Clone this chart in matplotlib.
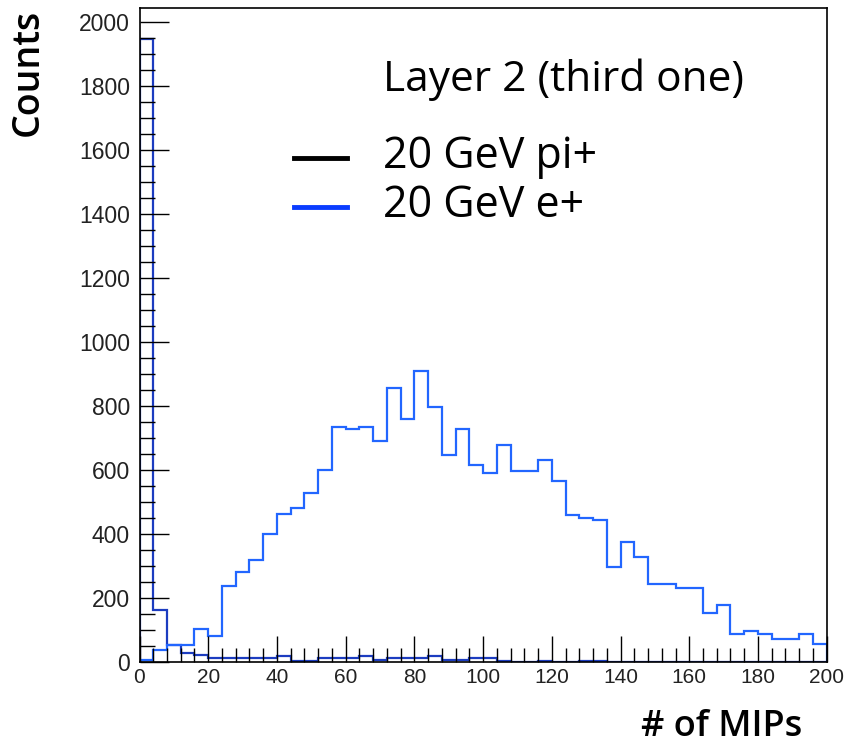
import numpy as np
import matplotlib
matplotlib.use("Agg")
import matplotlib.pyplot as plt
from matplotlib.ticker import MultipleLocator
from matplotlib.lines import Line2D

# ---- data ----
bin_edges = np.arange(0, 204, 4)
pion_counts = [1946, 163, 54, 27, 21, 11, 11, 11, 11, 11,
               19, 4, 4, 13, 13, 13, 20, 5, 13, 13,
               13, 20, 5, 5, 13, 13, 4, 0, 0, 4,
               0, 0, 4, 4, 0, 0, 0, 0, 0, 0,
               0, 0, 0, 0, 0, 0, 0, 0, 0, 0]
positron_counts = [5, 37, 54, 54, 104, 80, 237, 281, 318, 400,
                   464, 480, 529, 600, 733, 727, 733, 692, 857, 760,
                   908, 798, 647, 728, 615, 592, 679, 598, 598, 632,
                   566, 460, 449, 443, 297, 376, 328, 243, 243, 231,
                   231, 152, 178, 86, 97, 86, 71, 71, 86, 55]
legend_labels = ["20 GeV pi+", "20 GeV e+"]
title_text = "Layer 2 (third one)"

W, H = 848, 748
fig = plt.figure(figsize=(W / 100, H / 100), dpi=100)
ax = fig.add_axes([139.5 / W, (H - 662) / H, (826.7 - 139.5) / W, (662 - 8.3) / H])

ax.stairs(pion_counts, bin_edges, baseline=0, color="#1c3cc0", lw=1.6)
ax.stairs(positron_counts, bin_edges, baseline=0, color="#2266ff", lw=1.6)

ax.set_xlim(0, 200)
ax.set_ylim(0, 2043)

ax.xaxis.set_major_locator(MultipleLocator(20))
ax.xaxis.set_minor_locator(MultipleLocator(4))
ax.yaxis.set_major_locator(MultipleLocator(200))
ax.yaxis.set_minor_locator(MultipleLocator(50))
ax.tick_params(which="both", direction="in", top=False, right=False, width=1.0, color="black")
ax.tick_params(axis="x", which="major", length=19, pad=4)
ax.tick_params(axis="x", which="minor", length=10)
ax.tick_params(axis="y", which="major", length=21, pad=7)
ax.tick_params(axis="y", which="minor", length=11)
for lab in ax.get_xticklabels():
    lab.set_fontfamily("Liberation Sans")
    lab.set_fontsize(15)
    lab.set_color("#222222")
for lab in ax.get_yticklabels():
    lab.set_fontfamily("Liberation Sans")
    lab.set_fontsize(16.5)
    lab.set_color("#222222")
for sp in ax.spines.values():
    sp.set_linewidth(1.2)
    sp.set_color("black")

tfont = ["Open Sans", "DejaVu Sans"]
fig.text(28 / W, 1 - 72 / H, "Counts", rotation=90, ha="center", va="center",
         fontsize=27, family=tfont, fontweight="semibold")
fig.text(722 / W, 1 - 727 / H, "# of MIPs", ha="center", va="center",
         fontsize=26, family=tfont, fontweight="semibold")

fig.text(383 / W, 1 - 80 / H, title_text, ha="left", va="center",
         fontsize=30.5, family=tfont)
leg_colors = ["black", "#0a3cff"]
leg_y = [158, 207]
for lab, c, y in zip(legend_labels, leg_colors, leg_y):
    fig.add_artist(Line2D([294 / W, 347 / W], [1 - y / H, 1 - y / H], color=c, lw=3.5,
                          transform=fig.transFigure))
    fig.text(383 / W, 1 - (y - 1) / H, lab, ha="left", va="center", fontsize=31, family=tfont)

fig.savefig("out.png", dpi=100)
